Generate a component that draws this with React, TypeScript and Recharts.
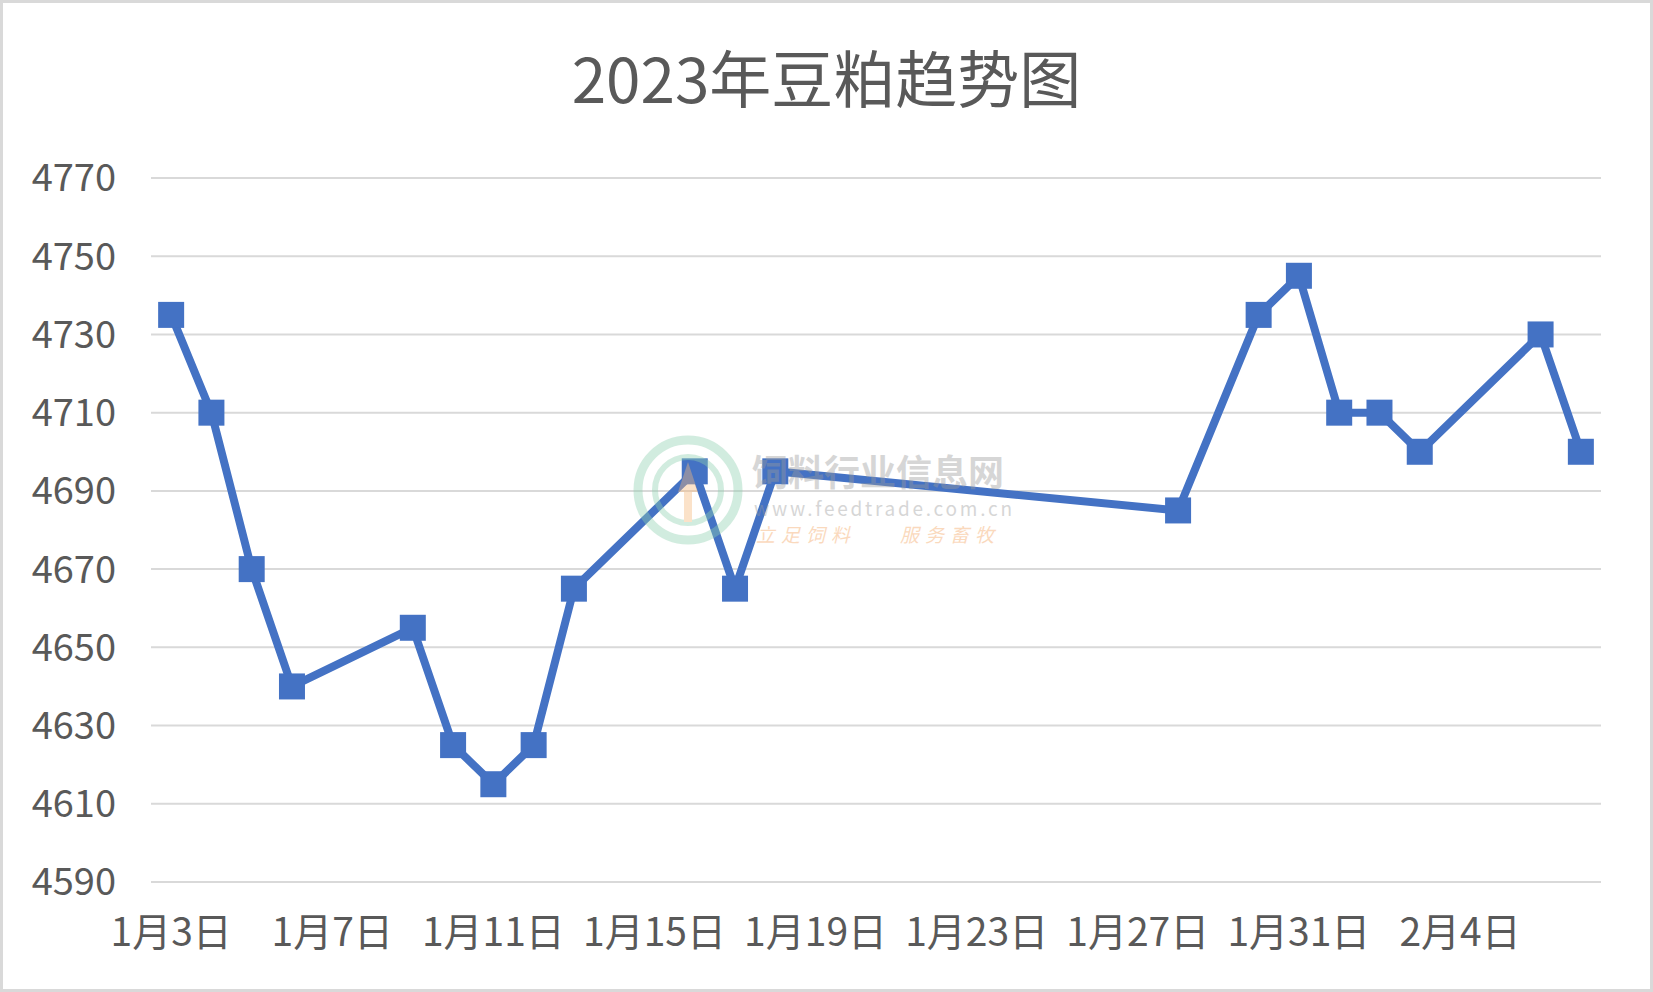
import React from 'react';
import { LineChart, Line, XAxis, YAxis, CartesianGrid } from 'recharts';

// trading days (月-日) and soybean meal price
const dates = ['1-3', '1-4', '1-5', '1-6', '1-9', '1-10', '1-11', '1-12', '1-13', '1-16', '1-17', '1-18', '1-28', '1-30', '1-31', '2-1', '2-2', '2-3', '2-6', '2-7'];
const prices = [4735, 4710, 4670, 4640, 4655, 4625, 4615, 4625, 4665, 4695, 4665, 4695, 4685, 4735, 4745, 4710, 4710, 4700, 4730, 4700];
const xTickDates = ['1-3', '1-7', '1-11', '1-15', '1-19', '1-23', '1-27', '1-31', '2-4'];
const yTicks = [4590, 4610, 4630, 4650, 4670, 4690, 4710, 4730, 4750, 4770];

const FONT = '"Noto Sans CJK SC", "Noto Sans", sans-serif';
const BLUE = '#4472C4';

const dayIndex = (md: string) => {
  const [m, d] = md.split('-').map(Number);
  const t = Date.UTC(2023, m - 1, d) - Date.UTC(2023, 0, 3);
  return Math.round(t / 86400000);
};
const label = (md: string) => {
  const [m, d] = md.split('-');
  return `${m}月${d}日`;
};

const data = dates.map((d, i) => ({ day: dayIndex(d), price: prices[i] }));
const xTicks = xTickDates.map(dayIndex);
const tickLabel: Record<number, string> = {};
xTickDates.forEach((d) => { tickLabel[dayIndex(d)] = label(d); });

const SquareDot = (props: any) => {
  const { cx, cy, index } = props;
  if (cx == null || cy == null) return null;
  return <rect key={`dot-${index}`} x={cx - 13} y={cy - 13} width={26} height={26} fill={BLUE} />;
};

const Watermark = () => (
  <svg width={1653} height={992} style={{ position: 'absolute', left: 0, top: 0, pointerEvents: 'none' }}>
    <g opacity={0.4}>
      <circle cx={688} cy={490} r={50} fill="none" stroke="#8fd1b0" strokeWidth={9} />
      <circle cx={688} cy={490} r={33} fill="none" stroke="#8fd1b0" strokeWidth={6} />
      <path d="M688 462 L698 492 L692 492 L692 522 L684 522 L684 492 L678 492 Z" fill="#f7b87a" />
      <text x={752} y={486} fontFamily={FONT} fontSize={36} fontWeight="bold" fill="#9a9a9a">饲料行业信息网</text>
      <text x={754} y={516} fontFamily={FONT} fontSize={19} fill="#9a9a9a" textLength={258}>www.feedtrade.com.cn</text>
      <text x={756} y={542} fontFamily={FONT} fontSize={19} fontStyle="italic" fill="#f5a35c" letterSpacing={6}>立足饲料</text>
      <text x={900} y={542} fontFamily={FONT} fontSize={19} fontStyle="italic" fill="#f5a35c" letterSpacing={6}>服务畜牧</text>
    </g>
  </svg>
);

export default function App() {
  return (
    <div
      style={{
        position: 'absolute',
        left: 0,
        top: 0,
        width: 1653,
        height: 992,
        background: '#fff',
        fontFamily: FONT,
      }}
    >
      <div
        style={{
          position: 'absolute',
          left: 0,
          top: 0,
          width: 1653,
          height: 992,
          boxSizing: 'border-box',
          border: '3px solid #d9d9d9',
          zIndex: 2,
          pointerEvents: 'none',
        }}
      />
      <div
        style={{
          position: 'absolute',
          left: 0,
          top: 38,
          width: 1653,
          textAlign: 'center',
          fontSize: 62,
          lineHeight: '76px',
          color: '#595959',
        }}
      >
        2023年豆粕趋势图
      </div>
      <LineChart
        width={1653}
        height={992}
        data={data}
        margin={{ top: 178, right: 52, bottom: 40, left: 0 }}
      >
        <CartesianGrid vertical={false} stroke="#d9d9d9" strokeWidth={2} />
        <XAxis
          dataKey="day"
          type="number"
          domain={[-0.5, 35.5]}
          ticks={xTicks}
          tickFormatter={(v: number) => tickLabel[v] ?? ''}
          axisLine={false}
          tickLine={false}
          tickMargin={30}
          height={70}
          interval={0}
          tick={{ fill: '#595959', fontSize: 39, fontFamily: FONT }}
        />
        <YAxis
          domain={[4590, 4770]}
          ticks={yTicks}
          axisLine={false}
          tickLine={false}
          tickMargin={29}
          width={151}
          interval={0}
          tick={{ fill: '#595959', fontSize: 38, fontFamily: FONT }}
        />
        <Line
          dataKey="price"
          stroke={BLUE}
          strokeWidth={8}
          strokeLinejoin="round"
          dot={SquareDot}
          activeDot={false}
          isAnimationActive={false}
        />
      </LineChart>
      <Watermark />
    </div>
  );
}
